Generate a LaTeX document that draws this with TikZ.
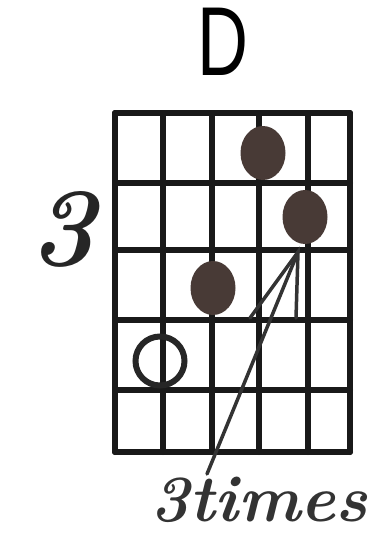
\documentclass[tikz,border=0pt]{standalone}
\usepackage{fontspec}
\usetikzlibrary{shapes.geometric}
\newfontfamily\dfont[FakeStretch=0.72]{Liberation Sans}
\begin{document}
\begin{tikzpicture}[x=1pt,y=-1pt,
  gridline/.style={line width=6pt,line cap=round,line join=round,black!90},
  fingerdot/.style={ellipse,fill=dotcol,minimum width=45pt,minimum height=54pt,inner sep=0pt},
  opendot/.style={circle,draw=black!85,line width=6pt,minimum size=49pt,inner sep=0pt},
  handline/.style={line width=3.5pt,line cap=round,black!80}]
\definecolor{dotcol}{RGB}{72,58,54}
\useasboundingbox (0,0) rectangle (379,546);
% grid
\foreach \x in {115,163,212,259,308,350} \draw[gridline] (\x,113) -- (\x,452);
\foreach \y in {113,183,250,320,390,452} \draw[gridline] (115,\y) -- (350,\y);
% dots
\node[fingerdot] (d1) at (263,153) {};
\node[fingerdot] (d2) at (305,217) {};
\node[fingerdot] (d3) at (213,288) {};
\node[opendot] (o1) at (160,361) {};
% arrow
\coordinate (tip) at (298,252);
\coordinate (tail) at (207,474);
\coordinate (hl) at (250,318);
\coordinate (hr) at (296,318);
\draw[handline] (tail) -- (tip);
\draw[handline] (hl) -- (tip) -- (hr);
% texts
\node[font=\dfont\fontsize{98}{98}\selectfont,inner sep=0pt] (title) at (223,42) {D};
\node[font=\bfseries\itshape\fontsize{112}{112}\selectfont,inner sep=0pt,text=black!85] (fret) at (63,229) {3};
\node[font=\bfseries\itshape\fontsize{66}{66}\selectfont,inner sep=0pt,text=black!80] (times) at (259,500) {3times};
\end{tikzpicture}
\end{document}
